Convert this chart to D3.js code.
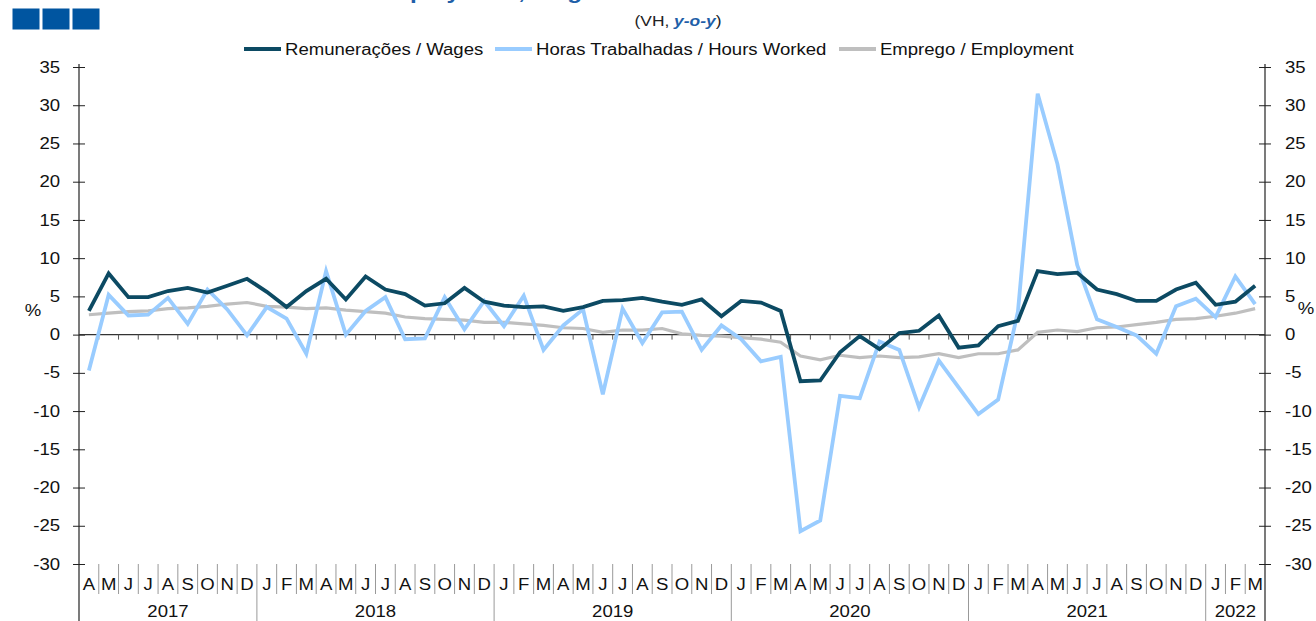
<!DOCTYPE html>
<html>
<head>
<meta charset="utf-8">
<script src="https://cdn.jsdelivr.net/npm/d3@7"></script>
<style>
    body { margin: 0; background: #fff; }
    svg { display: block; font-family: "Liberation Sans", Arial, sans-serif; }
</style>
</head>
<body>
<div id="chart"></div>
<script>
// months from Apr 2017 to Mar 2022
const monthLabels = [
    "A", "M", "J", "J", "A", "S", "O", "N", "D",
    "J", "F", "M", "A", "M", "J", "J", "A", "S", "O", "N", "D",
    "J", "F", "M", "A", "M", "J", "J", "A", "S", "O", "N", "D",
    "J", "F", "M", "A", "M", "J", "J", "A", "S", "O", "N", "D",
    "J", "F", "M", "A", "M", "J", "J", "A", "S", "O", "N", "D",
    "J", "F", "M"
];
const yearLabels = ["2017", "2018", "2019", "2020", "2021", "2022"];
const yearCounts = [9, 12, 12, 12, 12, 3];

const wages = [
    3.1, 8.0, 4.9, 4.9, 5.7, 6.1, 5.5, 6.4, 7.3,
    5.6, 3.6, 5.7, 7.3, 4.6, 7.6, 5.9, 5.3, 3.8, 4.1, 6.1, 4.3,
    3.8, 3.6, 3.7, 3.1, 3.6, 4.4, 4.5, 4.8, 4.3, 3.9, 4.6, 2.4,
    4.4, 4.2, 3.1, -6.1, -6.0, -2.3, -0.2, -1.9, 0.2, 0.5, 2.5, -1.7,
    -1.4, 1.1, 1.8, 8.3, 7.9, 8.1, 5.9, 5.3, 4.4, 4.4, 5.9, 6.8,
    3.9, 4.3, 6.4
];
const hoursWorked = [
    -4.7, 5.2, 2.5, 2.6, 4.8, 1.4, 5.9, 3.3, -0.1,
    3.6, 2.1, -2.5, 8.3, 0.0, 3.1, 4.9, -0.6, -0.5, 4.9, 0.7, 4.4,
    1.1, 5.1, -2.0, 1.2, 3.3, -7.8, 3.4, -1.1, 2.9, 3.0, -2.0, 1.2,
    -0.6, -3.5, -2.9, -25.7, -24.3, -8.0, -8.3, -0.9, -2.0, -9.5, -3.4, -6.9,
    -10.4, -8.5, 3.0, 31.5, 22.3, 9.1, 2.0, 1.0, -0.1, -2.5, 3.7, 4.7,
    2.3, 7.6, 4.0
];
const employment = [
    2.6, 2.8, 3.0, 3.1, 3.4, 3.5, 3.7, 4.0, 4.2,
    3.7, 3.6, 3.4, 3.5, 3.2, 3.0, 2.8, 2.3, 2.1, 2.0, 1.9, 1.6,
    1.6, 1.4, 1.2, 0.9, 0.8, 0.3, 0.6, 0.6, 0.8, 0.1, -0.1, -0.2,
    -0.4, -0.6, -1.0, -2.8, -3.3, -2.7, -3.0, -2.8, -3.0, -2.9, -2.5, -3.0,
    -2.5, -2.5, -2.0, 0.3, 0.6, 0.4, 0.9, 1.0, 1.3, 1.6, 2.0, 2.1,
    2.4, 2.8, 3.4
];
const yTicks = [35, 30, 25, 20, 15, 10, 5, 0, -5, -10, -15, -20, -25, -30];

const seriesNames = ["Remunerações / Wages", "Horas Trabalhadas / Hours Worked", "Emprego / Employment"];
const seriesColors = ["#0c4a63", "#99ccff", "#bfbfbf"];

(function () {
    "use strict";

    const width = 1316, height = 621;
    const left = 79, right = 1265, top = 67, bottom = 564;
    const SX = 1.16; // text in the original is a bit wider than Arial

    const svg = d3.select("#chart").append("svg")
        .attr("width", width)
        .attr("height", height);

    const x = d3.scaleBand().domain(d3.range(monthLabels.length)).range([left, right]);
    const y = d3.scaleLinear().domain([-30, 35]).range([bottom, top]);

    // widen text horizontally around its own anchor
    function stretch(sel) {
        sel.each(function () {
            const t = d3.select(this);
            const tx = +t.attr("x") || 0;
            t.attr("transform", "translate(" + tx + ",0) scale(" + SX + ",1) translate(" + (-tx) + ",0)");
        });
    }

    // header bits
    svg.selectAll("rect.logo")
        .data([0, 1, 2])
        .enter().append("rect")
        .attr("class", "logo")
        .attr("x", d => 12.5 + d * 30)
        .attr("y", 8.5)
        .attr("width", 27)
        .attr("height", 21)
        .attr("fill", "#0055a0");

    // title sits above the visible area, only its descenders show
    svg.append("text")
        .attr("x", 372)
        .attr("y", -1.5)
        .attr("font-size", 21)
        .attr("font-weight", "bold")
        .attr("fill", "#1f5fa8")
        .text("Employment, Wages and Hours Worked")
        .call(stretch);

    const sub = svg.append("text")
        .attr("x", 678)
        .attr("y", 26)
        .attr("text-anchor", "middle")
        .attr("font-size", 15)
        .attr("fill", "#222");
    sub.append("tspan").text("(VH, ");
    sub.append("tspan").attr("font-style", "italic").attr("font-weight", "bold").attr("fill", "#1f5fa8").text("y-o-y");
    sub.append("tspan").text(")");
    stretch(sub);

    // legend
    const legendX = [244, 495, 839];
    const lg = svg.selectAll("g.legend")
        .data(seriesNames)
        .enter().append("g")
        .attr("class", "legend")
        .attr("transform", (d, i) => "translate(" + legendX[i] + ",49)");
    lg.append("line")
        .attr("x1", 0).attr("x2", 37)
        .attr("stroke", (d, i) => seriesColors[i])
        .attr("stroke-width", 4);
    lg.append("text")
        .attr("x", 41)
        .attr("y", 6)
        .attr("font-size", 16)
        .attr("fill", "#111")
        .text(d => d)
        .call(stretch);

    // y axes
    const fmt = d => String(d);
    const axL = svg.append("g")
        .attr("transform", "translate(" + left + ",0)")
        .call(d3.axisLeft(y).tickValues(yTicks).tickFormat(fmt).tickSize(6).tickPadding(13));
    const axR = svg.append("g")
        .attr("transform", "translate(" + right + ",0)")
        .call(d3.axisRight(y).tickValues(yTicks).tickFormat(fmt).tickSize(6).tickPadding(14));
    [axL, axR].forEach((ax, k) => {
        ax.select(".domain").remove();
        ax.selectAll(".tick line")
            .attr("x1", k === 0 ? 6 : -6)
            .attr("stroke", "#222");
        ax.selectAll(".tick text")
            .attr("font-size", 16)
            .attr("fill", "#111")
            .attr("font-family", "Liberation Sans, Arial, sans-serif")
            .call(stretch);
    });
    [left, right].forEach(px => {
        svg.append("line")
            .attr("x1", px).attr("x2", px)
            .attr("y1", y(35) - 3).attr("y2", height)
            .attr("stroke", "#222")
            .attr("stroke-width", 1.2);
    });

    svg.append("text").attr("x", 33).attr("y", 316).attr("text-anchor", "middle")
        .attr("font-size", 16).attr("fill", "#111").text("%").call(stretch);
    svg.append("text").attr("x", 1306).attr("y", 314).attr("text-anchor", "middle")
        .attr("font-size", 16).attr("fill", "#111").text("%").call(stretch);

    // zero line with small ticks
    svg.append("line")
        .attr("x1", left).attr("x2", right)
        .attr("y1", y(0)).attr("y2", y(0))
        .attr("stroke", "#333")
        .attr("stroke-width", 1.2);
    svg.selectAll("line.ztick")
        .data(d3.range(1, monthLabels.length))
        .enter().append("line")
        .attr("class", "ztick")
        .attr("x1", d => x(d)).attr("x2", d => x(d))
        .attr("y1", y(0)).attr("y2", y(0) + 5)
        .attr("stroke", "#555");

    // category axis: months and years
    const yearStarts = [];
    let acc = 0;
    yearCounts.forEach(n => { yearStarts.push(acc); acc += n; });

    svg.selectAll("line.msep")
        .data(d3.range(1, monthLabels.length))
        .enter().append("line")
        .attr("class", "msep")
        .attr("x1", d => x(d)).attr("x2", d => x(d))
        .attr("y1", bottom)
        .attr("y2", d => yearStarts.indexOf(d) >= 0 ? height : 594)
        .attr("stroke", "#999");

    svg.selectAll("text.month")
        .data(monthLabels)
        .enter().append("text")
        .attr("class", "month")
        .attr("x", (d, i) => x(i) + x.bandwidth() / 2)
        .attr("y", 590)
        .attr("text-anchor", "middle")
        .attr("font-size", 16)
        .attr("fill", "#111")
        .text(d => d)
        .call(stretch);

    svg.selectAll("text.year")
        .data(yearLabels)
        .enter().append("text")
        .attr("class", "year")
        .attr("x", (d, i) => x(yearStarts[i]) + yearCounts[i] * x.bandwidth() / 2)
        .attr("y", 617)
        .attr("text-anchor", "middle")
        .attr("font-size", 16)
        .attr("fill", "#111")
        .text(d => d)
        .call(stretch);

    // lines
    const line = d3.line()
        .x((d, i) => x(i) + x.bandwidth() / 2)
        .y(d => y(d));

    const allSeries = [employment, hoursWorked, wages];
    const order = [2, 1, 0];
    svg.selectAll("path.series")
        .data(allSeries)
        .enter().append("path")
        .attr("class", "series")
        .attr("d", line)
        .attr("fill", "none")
        .attr("stroke", (d, i) => seriesColors[order[i]])
        .attr("stroke-width", (d, i) => order[i] === 2 ? 3.2 : 3.8)
        .attr("stroke-linejoin", "miter");
}());
</script>
</body>
</html>
